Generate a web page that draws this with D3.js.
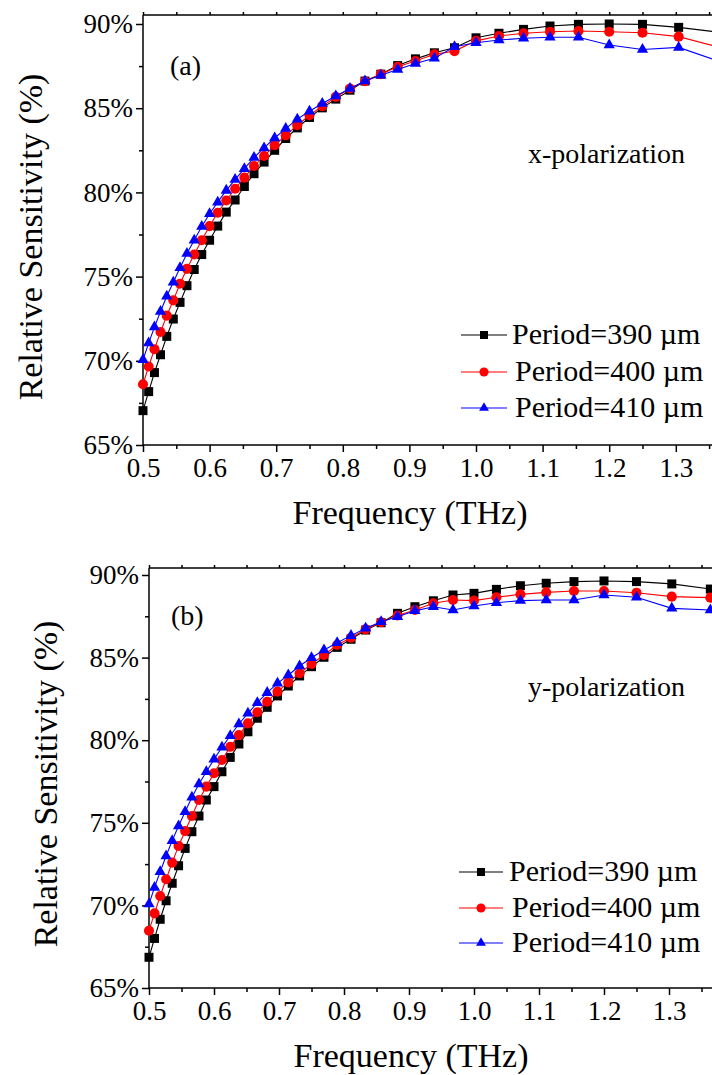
<!DOCTYPE html>
<html><head><meta charset="utf-8">
<script src="https://cdn.jsdelivr.net/npm/d3@7"></script>
<style>html,body{margin:0;padding:0;background:#fff;overflow:hidden}</style>
</head><body>
<svg id="chart" width="712" height="1075"></svg>
<script>
// ---------- data ----------
const freqs = [0.5000,0.5085,0.5172,0.5263,0.5357,0.5455,0.5556,0.5660,0.5769,0.5882,
  0.6000,0.6122,0.6250,0.6383,0.6522,0.6667,0.6818,0.6977,0.7143,0.7317,
  0.7500,0.7692,0.7895,0.8108,0.8333,0.8571,0.8824,0.9091,0.9375,0.9677,
  1.0000,1.0345,1.0714,1.1111,1.1538,1.2000,1.2500,1.3043,1.3636];

const xpol390 = [67.04,68.17,69.30,70.36,71.45,72.48,73.47,74.46,75.42,76.31,
  77.16,78.00,78.83,79.55,80.35,81.11,81.80,82.50,83.20,83.83,
  84.45,85.02,85.54,86.07,86.61,87.02,87.53,87.93,88.29,88.59,
  89.18,89.45,89.68,89.88,89.98,90.00,89.98,89.80,89.52];
const xpol400 = [68.61,69.66,70.69,71.71,72.68,73.59,74.58,75.46,76.31,77.16,
  78.00,78.79,79.52,80.22,80.88,81.57,82.16,82.80,83.39,83.99,
  84.58,85.12,85.67,86.17,86.60,87.02,87.46,87.80,88.20,88.39,
  89.00,89.29,89.45,89.54,89.58,89.54,89.48,89.25,88.63];
const xpol410 = [70.06,71.05,72.00,72.93,73.83,74.66,75.52,76.37,77.16,77.97,
  78.73,79.42,80.12,80.76,81.41,82.07,82.64,83.23,83.79,84.35,
  84.82,85.28,85.73,86.17,86.61,86.96,87.30,87.66,87.96,88.65,
  88.89,89.05,89.15,89.21,89.21,88.75,88.49,88.61,87.80];

const ypol390 = [66.86,68.00,69.16,70.28,71.34,72.40,73.45,74.46,75.41,76.38,
  77.19,78.09,78.96,79.77,80.51,81.33,81.99,82.68,83.28,83.89,
  84.45,85.02,85.62,86.11,86.67,87.11,87.68,88.08,88.44,88.79,
  88.89,89.13,89.35,89.50,89.60,89.64,89.60,89.46,89.15];
const ypol400 = [68.47,69.52,70.57,71.58,72.59,73.60,74.50,75.41,76.38,77.19,
  78.00,78.80,79.60,80.31,81.02,81.69,82.33,82.94,83.50,84.05,
  84.61,85.16,85.76,86.20,86.71,87.14,87.55,87.88,88.29,88.49,
  88.45,88.65,88.83,88.95,89.03,89.03,88.93,88.69,88.63];
const ypol410 = [70.08,71.09,72.04,72.99,73.92,74.81,75.67,76.54,77.35,78.09,
  78.84,79.57,80.27,80.98,81.63,82.27,82.88,83.44,83.95,84.49,
  84.99,85.46,85.90,86.33,86.77,87.17,87.47,87.83,88.08,87.88,
  88.12,88.32,88.45,88.49,88.49,88.79,88.65,87.98,87.88];

const seriesNames = ["Period=390 µm","Period=400 µm","Period=410 µm"];
const xTicks = [0.5,0.6,0.7,0.8,0.9,1.0,1.1,1.2,1.3];
const xMinorTicks = [0.55,0.65,0.75,0.85,0.95,1.05,1.15,1.25,1.35];
const yTicks = [65,70,75,80,85,90];
const yMinorTicks = [67.5,72.5,77.5,82.5,87.5];
const panelLabels = ["(a)","(b)"];
const polLabels = ["x-polarization","y-polarization"];
const xTitle = "Frequency (THz)";
const yTitle = "Relative Sensitivity (%)";

// ---------- styles ----------
const colors = ["#000000","#ff0000","#0000ff"];
const symbols = [d3.symbolSquare, d3.symbolCircle, d3.symbolTriangle];
const symSizes = [81, 80, 55];
const legSymSizes = [64, 66, 42];
const FONT = "'Liberation Serif','Times New Roman',serif";

const panels = [
  {data:[xpol390,xpol400,xpol410], left:143, pxPerTHz:666, top:15, y90:24, y65:445,
   label:{x:170,y:75}, pol:{x:528,y:163}, yTitle:{x:42,y:237}, xTitle:{x:410,y:524},
   legend:{x1:461,x2:507,mx:484,rows:[335,372,408],tx:[512,515,515]}},
  {data:[ypol390,ypol400,ypol410], left:149, pxPerTHz:650, top:568, y90:575, y65:988,
   label:{x:171,y:625}, pol:{x:528,y:696}, yTitle:{x:57,y:784}, xTitle:{x:411,y:1067},
   legend:{x1:459,x2:503,mx:481,rows:[872,908,943],tx:[509,512,512]}}
];

const svg = d3.select("#chart");
svg.append("rect").attr("width",712).attr("height",1075).attr("fill","#fff");

panels.forEach((p,pi)=>{
  const x = d3.scaleLinear().domain([0.5,1.5]).range([p.left, p.left + p.pxPerTHz]);
  const y = d3.scaleLinear().domain([65,90]).range([p.y65, p.y90]);
  const g = svg.append("g");
  const right = 800;

  // frame
  g.append("line").attr("x1",p.left).attr("x2",p.left).attr("y1",p.top).attr("y2",p.y65)
    .attr("stroke","#000").attr("stroke-width",1.5);
  g.append("line").attr("x1",p.left).attr("x2",right).attr("y1",p.y65).attr("y2",p.y65)
    .attr("stroke","#000").attr("stroke-width",1.5);
  g.append("line").attr("x1",p.left).attr("x2",right).attr("y1",p.top).attr("y2",p.top)
    .attr("stroke","#000").attr("stroke-width",1.5);

  // axes
  const styleAxis = sel => {
    sel.select(".domain").remove();
    sel.selectAll(".tick line").attr("stroke","#000").attr("stroke-width",1.5);
    sel.selectAll(".tick text").attr("fill","#000").style("font-family",FONT).style("font-size","27px");
  };
  g.append("g").attr("transform",`translate(0,${p.y65})`)
    .call(d3.axisBottom(x).tickValues(xTicks).tickFormat(d3.format(".1f")).tickSize(7).tickPadding(6))
    .call(styleAxis);
  g.append("g").attr("transform",`translate(0,${p.y65})`)
    .call(d3.axisBottom(x).tickValues(xMinorTicks).tickFormat("").tickSize(4))
    .call(styleAxis);
  g.append("g").attr("transform",`translate(0,${p.top})`)
    .call(d3.axisTop(x).tickValues(xTicks.concat(xMinorTicks)).tickFormat("").tickSize(3))
    .call(styleAxis);
  g.append("g").attr("transform",`translate(${p.left},0)`)
    .call(d3.axisLeft(y).tickValues(yTicks).tickFormat(d=>d+"%").tickSize(7).tickPadding(3))
    .call(styleAxis);
  g.append("g").attr("transform",`translate(${p.left},0)`)
    .call(d3.axisLeft(y).tickValues(yMinorTicks).tickFormat("").tickSize(4))
    .call(styleAxis);

  // series
  const line = d3.line().x((d,i)=>x(freqs[i])).y(d=>y(d));
  p.data.forEach((vals,si)=>{
    const sg = g.append("g");
    sg.append("path").datum(vals).attr("d",line).attr("fill","none")
      .attr("stroke",colors[si]).attr("stroke-width",1.1);
    sg.selectAll("path.m").data(vals).join("path").attr("class","m")
      .attr("transform",(d,i)=>`translate(${x(freqs[i])},${y(d)})`)
      .attr("d",d3.symbol().type(symbols[si]).size(symSizes[si]))
      .attr("fill",colors[si]);
  });

  // texts
  const txt = (t,xx,yy,size,anchor)=>g.append("text").text(t).attr("x",xx).attr("y",yy)
    .style("font-family",FONT).style("font-size",size+"px").attr("text-anchor",anchor||"start").attr("fill","#000");
  txt(panelLabels[pi],p.label.x,p.label.y,28);
  txt(polLabels[pi],p.pol.x,p.pol.y,28);
  txt(xTitle,p.xTitle.x,p.xTitle.y,34,"middle");
  g.append("text").text(yTitle)
    .attr("transform",`translate(${p.yTitle.x},${p.yTitle.y}) rotate(-90)`)
    .attr("text-anchor","middle").style("font-family",FONT).style("font-size","34px").attr("fill","#000");

  // legend
  const L = p.legend;
  seriesNames.forEach((name,si)=>{
    const ry = L.rows[si];
    g.append("line").attr("x1",L.x1).attr("x2",L.x2).attr("y1",ry).attr("y2",ry)
      .attr("stroke",colors[si]).attr("stroke-width",1.1);
    g.append("path").attr("transform",`translate(${L.mx},${ry})`)
      .attr("d",d3.symbol().type(symbols[si]).size(legSymSizes[si])).attr("fill",colors[si]);
    txt(name,L.tx[si],ry+9,30);
  });
});
</script>
</body></html>
